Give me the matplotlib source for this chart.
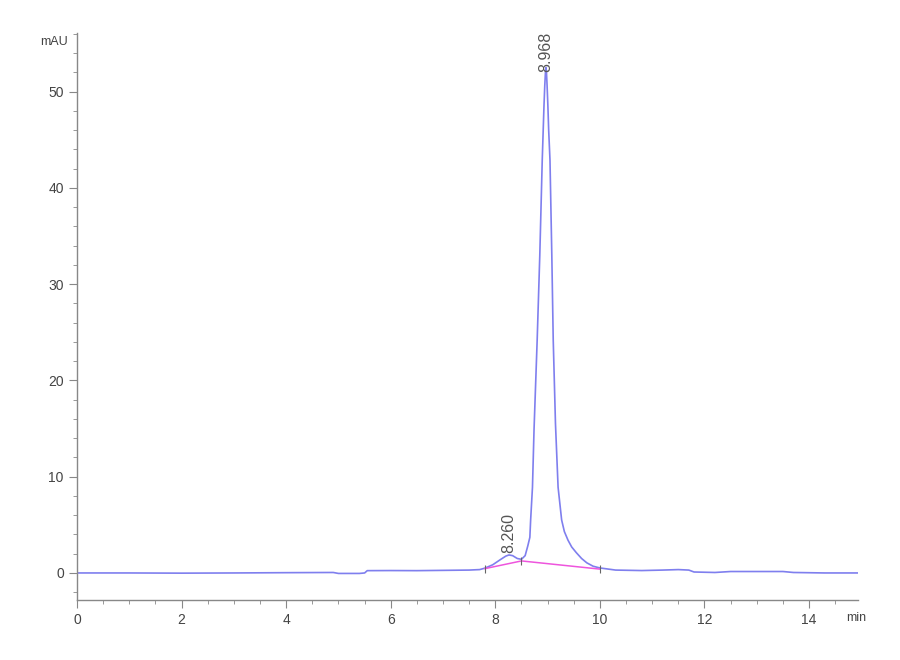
import matplotlib
matplotlib.use('Agg')
import matplotlib.pyplot as plt
from matplotlib.ticker import MultipleLocator

plt.rcParams['font.family'] = ['Liberation Sans', 'DejaVu Sans']

# Chromatogram trace (min, mAU)
time_min = [0, 1, 2, 3, 4, 4.9, 5.0, 5.4, 5.5, 5.55, 6.0, 6.5, 7.0, 7.5, 7.7, 7.8,
            7.95, 8.1, 8.2, 8.26, 8.33, 8.42, 8.5, 8.57, 8.62, 8.66, 8.675, 8.71,
            8.74, 8.80, 8.85, 8.897, 8.93, 8.945, 8.958, 8.968, 8.978, 8.99, 9.005,
            9.02, 9.045, 9.08, 9.107, 9.15, 9.20, 9.268, 9.32, 9.39, 9.46, 9.55,
            9.65, 9.75, 9.87, 10.0, 10.3, 10.8, 11.2, 11.5, 11.7, 11.8, 12.2, 12.5,
            13.0, 13.5, 13.7, 14.3, 14.93]
signal_mau = [0.0, 0.0, -0.02, 0.0, 0.03, 0.05, -0.05, -0.05, 0.0, 0.24, 0.25, 0.24,
              0.27, 0.3, 0.35, 0.5, 0.85, 1.4, 1.75, 1.87, 1.8, 1.5, 1.42, 1.8, 2.8,
              3.7, 5.5, 8.9, 14.9, 24.2, 33.0, 42.9, 48.5, 50.6, 52.0, 52.5, 52.0,
              50.6, 48.5, 46.0, 42.9, 33.0, 24.2, 15.5, 8.9, 5.5, 4.3, 3.4, 2.7, 2.1,
              1.5, 1.05, 0.7, 0.52, 0.3, 0.25, 0.3, 0.35, 0.3, 0.1, 0.05, 0.15, 0.15,
              0.15, 0.05, 0.0, 0.0]

# Integration baseline (magenta) and its start/end marks
base_time = [7.80, 8.50, 10.0]
base_mau = [0.45, 1.25, 0.4]

# Peak labels
peak_times = [8.260, 8.968]
label_bottoms = [2.1, 52.0]
peak_labels = ['8.260', '8.968']

fig = plt.figure(figsize=(9, 6.6), dpi=100)
ax = fig.add_axes([0.0856, 0.0909, 0.8674, 0.8591])

ax.plot(time_min, signal_mau, color='#7f7fee', lw=1.2)
ax.plot(base_time, base_mau, color='#ee55dd', lw=1.1)
ax.plot(base_time, base_mau, ls='none', marker='|', ms=6, color='#666666', mew=0.8)

for t, b, lab in zip(peak_times, label_bottoms, peak_labels):
    ax.text(t, b, lab, rotation=90, ha='center', va='bottom',
            fontsize=11.5, color='#555555', clip_on=False)

ax.set_xlim(0, 14.93)
ax.set_ylim(-2.81, 56.1)
ax.xaxis.set_major_locator(MultipleLocator(2))
ax.xaxis.set_minor_locator(MultipleLocator(0.5))
ax.set_yticks([0, 10, 20, 30, 40, 50])
ax.yaxis.set_minor_locator(MultipleLocator(2))

for s in ['top', 'right']:
    ax.spines[s].set_visible(False)
for s in ['left', 'bottom']:
    ax.spines[s].set_color('#888888')
    ax.spines[s].set_linewidth(1.0)

ax.tick_params(which='major', length=6, color='#888888', labelsize=10,
               labelcolor='#444444')
ax.tick_params(which='minor', length=3, color='#888888')

ax.text(-0.012, 0.985, 'mAU', transform=ax.transAxes, ha='right', va='center',
        fontsize=9, color='#444444')
ax.text(0.985, -0.032, 'min', transform=ax.transAxes, ha='left', va='center',
        fontsize=9, color='#444444', clip_on=False)

fig.savefig('out.png', dpi=100, facecolor='white')
